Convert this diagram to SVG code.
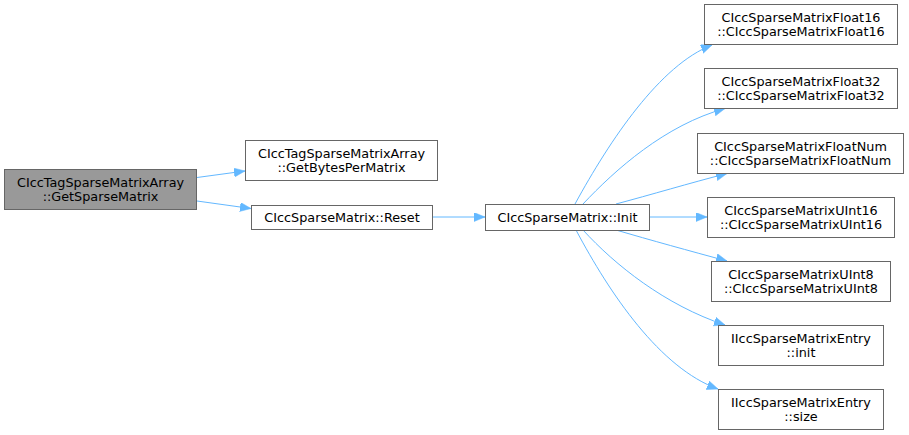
<svg xmlns="http://www.w3.org/2000/svg" width="909" height="435" viewBox="0 0 909 435">
<defs>
<style>
.n rect{fill:#fff;stroke:#666;stroke-width:1}
.n.hl rect{fill:#999}
text{font-family:"DejaVu Sans",sans-serif;font-size:12.8px;fill:#000;text-anchor:middle}
.e{fill:none;stroke:#63b8ff;stroke-width:1}
</style>
<marker id="ah" markerWidth="12" markerHeight="10" refX="11" refY="4.5" orient="auto" markerUnits="userSpaceOnUse">
<path d="M0,0 L11,4.5 L0,9 Z" fill="#63b8ff" stroke="#63b8ff" stroke-width="0.5"/>
</marker>
</defs>
<rect width="909" height="435" fill="#fff"/>
<g id="edges">
<path class="e" marker-end="url(#ah)" d="M197,177.5 L245,171"/>
<path class="e" marker-end="url(#ah)" d="M197,201 L251,208.5"/>
<path class="e" marker-end="url(#ah)" d="M432,217 L485,217"/>
<path class="e" marker-end="url(#ah)" d="M575,204 C610,140 660,65 712,45"/>
<path class="e" marker-end="url(#ah)" d="M583,204 C615,170 665,125 725,108.5"/>
<path class="e" marker-end="url(#ah)" d="M616,204 C650,195 690,183 727,173.5"/>
<path class="e" marker-end="url(#ah)" d="M649,217 L707,217"/>
<path class="e" marker-end="url(#ah)" d="M616,230 C650,240 690,251 727,261"/>
<path class="e" marker-end="url(#ah)" d="M583,230 C615,265 665,305 725,325"/>
<path class="e" marker-end="url(#ah)" d="M576,230 C610,294 660,368 718,389"/>
</g>
<g id="n1" class="n hl"><rect x="4.5" y="169.5" width="192" height="40"/><text x="100.5" y="186.5">CIccTagSparseMatrixArray</text><text x="100.5" y="200.5">::GetSparseMatrix</text></g>
<g id="n2" class="n"><rect x="245.5" y="140.5" width="192" height="40"/><text x="341.5" y="157.5">CIccTagSparseMatrixArray</text><text x="341.5" y="171.5">::GetBytesPerMatrix</text></g>
<g id="n3" class="n"><rect x="251.5" y="205.5" width="181" height="24"/><text x="342" y="221.5">CIccSparseMatrix::Reset</text></g>
<g id="n4" class="n"><rect x="485.5" y="204.5" width="164" height="26"/><text x="567.5" y="221.5">CIccSparseMatrix::Init</text></g>
<g id="n5" class="n"><rect x="704.5" y="4.5" width="193" height="40"/><text x="801" y="21.5">CIccSparseMatrixFloat16</text><text x="801" y="35.5">::CIccSparseMatrixFloat16</text></g>
<g id="n6" class="n"><rect x="704.5" y="68.5" width="193" height="40"/><text x="801" y="85.5">CIccSparseMatrixFloat32</text><text x="801" y="99.5">::CIccSparseMatrixFloat32</text></g>
<g id="n7" class="n"><rect x="697.5" y="133.5" width="206" height="40"/><text x="800.5" y="150.5">CIccSparseMatrixFloatNum</text><text x="800.5" y="164.5">::CIccSparseMatrixFloatNum</text></g>
<g id="n8" class="n"><rect x="707.5" y="197.5" width="187" height="40"/><text x="801" y="214.5">CIccSparseMatrixUInt16</text><text x="801" y="228.5">::CIccSparseMatrixUInt16</text></g>
<g id="n9" class="n"><rect x="711.5" y="261.5" width="179" height="40"/><text x="801" y="278.5">CIccSparseMatrixUInt8</text><text x="801" y="292.5">::CIccSparseMatrixUInt8</text></g>
<g id="n10" class="n"><rect x="718.5" y="325.5" width="165" height="40"/><text x="801" y="342.5">IIccSparseMatrixEntry</text><text x="801" y="356.5">::init</text></g>
<g id="n11" class="n"><rect x="718.5" y="389.5" width="165" height="40"/><text x="801" y="406.5">IIccSparseMatrixEntry</text><text x="801" y="420.5">::size</text></g>
</svg>
